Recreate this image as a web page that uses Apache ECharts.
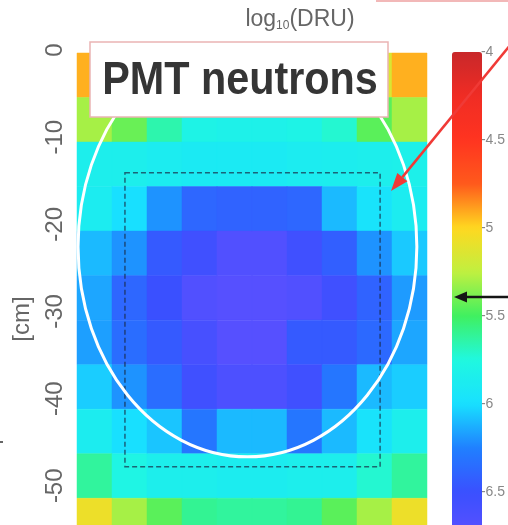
<!DOCTYPE html>
<html>
<head>
<meta charset="utf-8">
<script src="https://cdn.jsdelivr.net/npm/echarts@6/dist/echarts.min.js"></script>
<style>
  html, body { margin: 0; padding: 0; background: #fff; }
  #chart { width: 508px; height: 525px; }
</style>
</head>
<body>
<div id="chart"></div>
<script>
// log10 of the PMT-neutron rate (DRU) per cell: 11 depth bins (top first) x 10 columns
const logDRU = [
  [-4.92, -5.15, -5.30, -5.35, -5.40, -5.40, -5.35, -5.30, -5.15, -4.92],
  [-5.30, -5.42, -5.65, -5.80, -5.82, -5.82, -5.80, -5.72, -5.45, -5.30],
  [-5.85, -5.85, -5.88, -5.90, -5.90, -5.90, -5.88, -5.86, -5.85, -5.83],
  [-5.88, -6.00, -6.20, -6.38, -6.40, -6.40, -6.38, -6.10, -5.97, -5.88],
  [-6.10, -6.20, -6.45, -6.55, -6.68, -6.68, -6.55, -6.42, -6.20, -6.06],
  [-6.15, -6.38, -6.50, -6.68, -6.72, -6.72, -6.68, -6.55, -6.40, -6.18],
  [-6.17, -6.35, -6.45, -6.60, -6.72, -6.72, -6.45, -6.45, -6.37, -6.15],
  [-6.05, -6.20, -6.35, -6.55, -6.65, -6.65, -6.55, -6.30, -6.10, -6.05],
  [-5.87, -6.00, -6.07, -6.30, -6.10, -6.10, -6.30, -6.10, -5.97, -5.85],
  [-5.62, -5.78, -5.85, -5.85, -5.87, -5.87, -5.85, -5.85, -5.72, -5.62],
  [-5.07, -5.30, -5.45, -5.60, -5.62, -5.62, -5.60, -5.45, -5.30, -5.07]
];

// Depth tick labels [cm] and colour-scale tick labels
const depthTicks = [0, -10, -20, -30, -40, -50];
const scaleTicks = [-4, -4.5, -5, -5.5, -6, -6.5];

// Colour scale: log10(DRU) from -7 (bottom) to -4 (top)
const scaleMin = -7;
const scaleMax = -4;
const rainbow = ['#6a48ff', '#5a50ff', '#3a50ff', '#2080ff', '#18e0ff', '#20f8e0',
                 '#40f060', '#c0f040', '#ffd820', '#ff5a1c', '#ff3420', '#f02c24', '#c8282a'];

// Fiducial ellipse (cx, cy, rx, ry) and fiducial box (x0, y0, x1, y1), in cell units
const fiducialEllipse = [[4.87, 4.35, 4.84, 4.72]];
const fiducialBox = [[1.37, 2.69, 8.66, 9.29]];

const cells = [];
logDRU.forEach((row, r) => row.forEach((v, c) => cells.push([c, r, v])));

const chart = echarts.init(document.getElementById('chart'), null, { renderer: 'canvas' });
const labelFont = '"Liberation Sans", Arial, sans-serif';

chart.setOption({
  backgroundColor: '#ffffff',
  animation: false,
  grid: [
    { left: 77, top: 53, width: 350, bottom: 0 },
    { left: 77, top: 50, width: 350, bottom: 0 },
    { left: 452, top: 52, width: 30, bottom: 0 }
  ],
  xAxis: [
    { type: 'value', gridIndex: 0, min: 0, max: logDRU[0].length, show: false },
    { type: 'value', gridIndex: 1, min: 0, max: 1, show: false },
    { type: 'value', gridIndex: 2, min: 0, max: 1, show: false }
  ],
  yAxis: [
    // cell rows; the last row runs past the bottom edge
    { type: 'value', gridIndex: 0, min: 0, max: 10.6, inverse: true, show: false },
    {
      type: 'value', gridIndex: 1, min: -54.5, max: 0,
      axisLine: { show: false }, axisTick: { show: false }, splitLine: { show: false },
      axisLabel: { customValues: depthTicks, rotate: 90, margin: 10, fontSize: 24, color: '#666', fontFamily: labelFont }
    },
    {
      type: 'value', gridIndex: 2, min: -6.6875, max: scaleMax, position: 'right',
      axisLine: { show: false }, axisTick: { show: false }, splitLine: { show: false },
      axisLabel: { customValues: scaleTicks, margin: 3, fontSize: 14, color: '#888', fontFamily: labelFont }
    }
  ],
  visualMap: {
    type: 'continuous',
    min: scaleMin,
    max: scaleMax,
    seriesIndex: 0,
    dimension: 2,
    left: 452,
    top: 52,
    padding: 0,
    itemWidth: 30,
    itemHeight: 528,
    calculable: false,
    hoverLink: false,
    inRange: { color: rainbow }
  },
  series: [
    {
      type: 'custom',
      xAxisIndex: 0,
      yAxisIndex: 0,
      data: cells,
      silent: true,
      z: 2,
      renderItem: function (params, api) {
        const p0 = api.coord([api.value(0), api.value(1)]);
        const p1 = api.coord([api.value(0) + 1, api.value(1) + 1]);
        return {
          type: 'rect',
          shape: { x: p0[0], y: p0[1], width: p1[0] - p0[0], height: p1[1] - p0[1] },
          style: { fill: api.visual('color'), stroke: api.visual('color'), lineWidth: 0.5 }
        };
      }
    },
    {
      type: 'custom',
      xAxisIndex: 0,
      yAxisIndex: 0,
      data: fiducialEllipse,
      silent: true,
      z: 5,
      renderItem: function (params, api) {
        const c = api.coord([api.value(0), api.value(1)]);
        const e = api.coord([api.value(0) + api.value(2), api.value(1) + api.value(3)]);
        return {
          type: 'ellipse',
          shape: { cx: c[0], cy: c[1], rx: Math.abs(e[0] - c[0]), ry: Math.abs(e[1] - c[1]) },
          style: { fill: 'none', stroke: '#ffffff', lineWidth: 3 }
        };
      }
    },
    {
      type: 'custom',
      xAxisIndex: 0,
      yAxisIndex: 0,
      data: fiducialBox,
      silent: true,
      z: 4,
      renderItem: function (params, api) {
        const p0 = api.coord([api.value(0), api.value(1)]);
        const p1 = api.coord([api.value(2), api.value(3)]);
        return {
          type: 'rect',
          shape: { x: p0[0], y: p0[1], width: p1[0] - p0[0], height: p1[1] - p0[1] },
          style: { fill: 'none', stroke: '#1a2a44', lineWidth: 1.5, lineDash: [5, 3], opacity: 0.7 }
        };
      }
    }
  ],
  graphic: [
    {
      type: 'text', x: 300, y: 20, z: 100,
      style: {
        text: '{a|log}{s|10}{a|(DRU)}',
        align: 'center', verticalAlign: 'middle',
        rich: {
          a: { fontSize: 23, fontFamily: labelFont, fill: '#666', verticalAlign: 'bottom' },
          s: { fontSize: 12, fontFamily: labelFont, fill: '#666', verticalAlign: 'bottom' }
        }
      }
    },
    {
      type: 'rect', z: 100,
      shape: { x: 90, y: 42, width: 298, height: 75 },
      style: { fill: '#ffffff', stroke: '#eab4b4', lineWidth: 1.5 }
    },
    {
      type: 'text', x: 240, y: 81, scaleX: 0.88, z: 101,
      style: {
        text: 'PMT neutrons', fill: '#353535',
        font: 'bold 47px "Liberation Sans", Arial, sans-serif',
        align: 'center', verticalAlign: 'middle'
      }
    },
    {
      type: 'text', x: 22, y: 319, rotation: Math.PI / 2, z: 100,
      style: {
        text: '[cm]', fill: '#666', fontSize: 24, fontFamily: labelFont,
        align: 'center', verticalAlign: 'middle'
      }
    },
    {
      type: 'line', z: 100,
      shape: { x1: 376, y1: 1, x2: 508, y2: 1 },
      style: { stroke: '#f2b8b8', lineWidth: 2 }
    },
    {
      type: 'line', z: 100,
      shape: { x1: 0, y1: 442, x2: 3, y2: 442 },
      style: { stroke: '#333', lineWidth: 1.5 }
    },
    // red pointer onto the fiducial region
    {
      type: 'line', z: 110,
      shape: { x1: 520, y1: 33, x2: 402.4, y2: 177.1 },
      style: { stroke: '#f03a36', lineWidth: 2.5 }
    },
    {
      type: 'polygon', z: 110,
      shape: { points: [[391, 191], [407.5, 181.3], [397.3, 172.9]] },
      style: { fill: '#f03a36' }
    },
    // black pointer onto the colour scale
    {
      type: 'line', z: 110,
      shape: { x1: 508, y1: 297, x2: 464, y2: 297 },
      style: { stroke: '#151515', lineWidth: 2.5 }
    },
    {
      type: 'polygon', z: 110,
      shape: { points: [[454, 297], [467, 291.5], [467, 302.5]] },
      style: { fill: '#151515' }
    }
  ]
});
</script>
</body>
</html>
